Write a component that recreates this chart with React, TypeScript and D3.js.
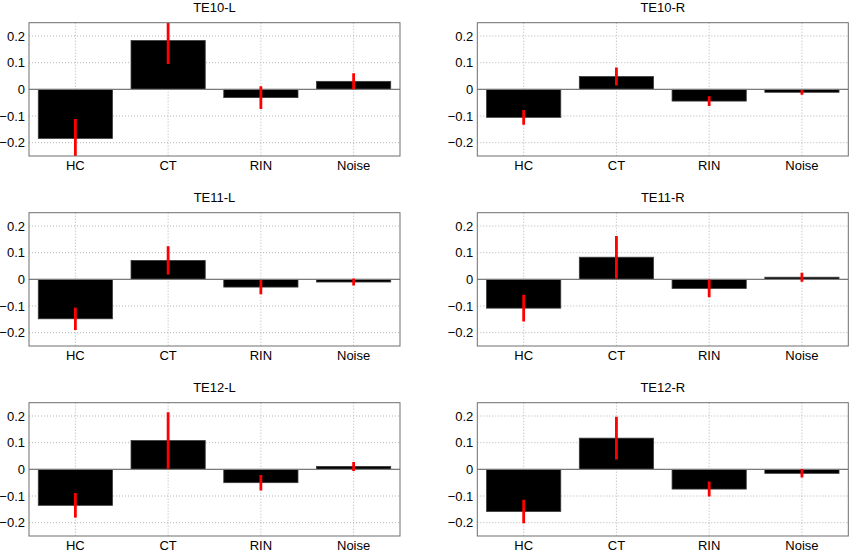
import React from 'react';
import * as d3 from 'd3';

const categories = ['HC', 'CT', 'RIN', 'Noise'];
const panelTitles = ['TE10-L', 'TE10-R', 'TE11-L', 'TE11-R', 'TE12-L', 'TE12-R'];
const yTicks = [-0.2, -0.1, 0, 0.1, 0.2];

// bar heights, one row per panel (same order as panelTitles)
const means = [
  [-0.184, 0.183, -0.031, 0.030],
  [-0.105, 0.048, -0.044, -0.011],
  [-0.148, 0.071, -0.029, -0.010],
  [-0.108, 0.083, -0.034, 0.008],
  [-0.135, 0.108, -0.050, 0.011],
  [-0.158, 0.117, -0.074, -0.015],
];

// half length of the red error bars
const errors = [
  [0.073, 0.088, 0.043, 0.030],
  [0.028, 0.034, 0.018, 0.009],
  [0.042, 0.053, 0.027, 0.013],
  [0.050, 0.080, 0.033, 0.017],
  [0.046, 0.106, 0.029, 0.017],
  [0.044, 0.080, 0.028, 0.016],
];

const W = 851;
const H = 552;
const colX = [29, 477.3];
const rowY = [22.7, 212.7, 402.7];
const pw = 371;
const ph = 133.3;

const font = 'Arial, "Liberation Sans", sans-serif';

const Panel: React.FC<{ idx: number }> = ({ idx }) => {
  const left = colX[idx % 2];
  const top = rowY[Math.floor(idx / 2)];
  const x = d3.scaleLinear().domain([0.5, 4.5]).range([0, pw]);
  const y = d3.scaleLinear().domain([-0.25, 0.25]).range([ph, 0]);
  const bw = x(1.4) - x(0.6);
  const clipId = `clip-${idx}`;

  return (
    <g transform={`translate(${left},${top})`}>
      <defs>
        <clipPath id={clipId}>
          <rect x={0} y={0} width={pw} height={ph} />
        </clipPath>
      </defs>
      <rect x={0} y={0} width={pw} height={ph} fill="#fff" />
      {yTicks.map(t => (
        <line key={'gy' + t} x1={0} x2={pw} y1={y(t)} y2={y(t)}
          stroke="#b4b4b4" strokeWidth={1} strokeDasharray="1,2" />
      ))}
      {categories.map((c, i) => (
        <line key={'gx' + c} x1={x(i + 1)} x2={x(i + 1)} y1={0} y2={ph}
          stroke="#b4b4b4" strokeWidth={1} strokeDasharray="1,2" />
      ))}
      <g clipPath={`url(#${clipId})`}>
        {means[idx].map((m, i) => (
          <rect key={'b' + i} x={x(i + 1) - bw / 2} y={Math.min(y(m), y(0))}
            width={bw} height={Math.abs(y(m) - y(0))}
            fill="#000" stroke="#3a3a3a" strokeWidth={0.8} />
        ))}
        <line x1={0} x2={pw} y1={y(0)} y2={y(0)} stroke="#7a7a7a" strokeWidth={1.2} />
        {means[idx].map((m, i) => (
          <line key={'e' + i} x1={x(i + 1)} x2={x(i + 1)}
            y1={y(m + errors[idx][i])} y2={y(m - errors[idx][i])}
            stroke="#ff0000" strokeWidth={2.8} />
        ))}
      </g>
      <rect x={0} y={0} width={pw} height={ph} fill="none" stroke="#6e6e6e" strokeWidth={1} />
      {yTicks.map(t => (
        <text key={'ty' + t} x={-4} y={y(t)} dy="0.35em" textAnchor="end"
          fontFamily={font} fontSize={13} fill="#000">
          {t === 0 ? '0' : d3.format('.1f')(t)}
        </text>
      ))}
      {categories.map((c, i) => (
        <text key={'tx' + c} x={x(i + 1)} y={ph + 14} textAnchor="middle"
          fontFamily={font} fontSize={13} fill="#000">
          {c}
        </text>
      ))}
      <text x={pw / 2} y={-10.5} textAnchor="middle" fontFamily={font} fontSize={13} fill="#000">
        {panelTitles[idx]}
      </text>
    </g>
  );
};

const App: React.FC = () => (
  <svg width={W} height={H} style={{ position: 'absolute', left: 0, top: 0, background: '#fff' }}>
    {panelTitles.map((_, i) => (
      <Panel key={i} idx={i} />
    ))}
  </svg>
);

export default App;
